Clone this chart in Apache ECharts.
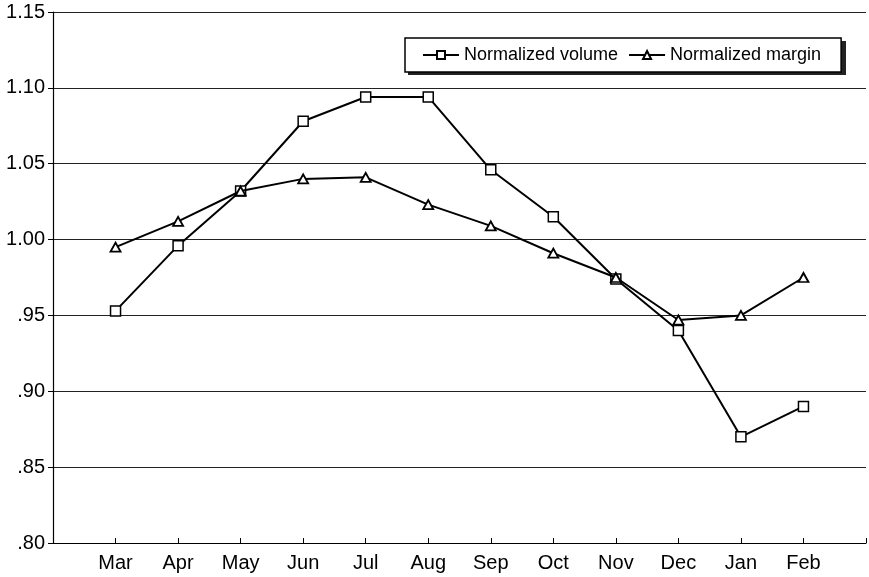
<!DOCTYPE html>
<html>
<head>
<meta charset="utf-8">
<script src="https://cdn.jsdelivr.net/npm/echarts@6/dist/echarts.min.js"></script>
<style>
  html, body { margin: 0; padding: 0; background: #fff; }
  #chart { width: 869px; height: 577px; }
</style>
</head>
<body>
<div id="chart"></div>
<script>
// months, Mar through Feb
var months = ['Mar', 'Apr', 'May', 'Jun', 'Jul', 'Aug', 'Sep', 'Oct', 'Nov', 'Dec', 'Jan', 'Feb']
var volume = [0.953, 0.996, 1.032, 1.078, 1.094, 1.094, 1.046, 1.015, 0.974, 0.940, 0.870, 0.890]
var margin = [0.995, 1.012, 1.032, 1.040, 1.041, 1.023, 1.009, 0.991, 0.975, 0.947, 0.950, 0.975]
var yTicks = [0.80, 0.85, 0.90, 0.95, 1.00, 1.05, 1.10, 1.15]

var FONT = 'Liberation Sans, Arial, Helvetica, sans-serif'

// empty slot at both ends so the points sit one step in from the axes
var cats = [''].concat(months).concat([''])
function toPoints(arr) {
  return arr.map(function (v, i) { return [i + 1, v] })
}
function yLabel(v) {
  var s = v.toFixed(2)
  return v < 1 ? s.replace(/^0/, '') : s
}

var chart = echarts.init(document.getElementById('chart'))
chart.setOption({
  animation: false,
  backgroundColor: '#fff',
  grid: { left: 53, top: 12, right: -7, bottom: 34 },
  // drop shadow behind the legend box
  graphic: [{
    type: 'rect',
    left: 408,
    top: 41,
    shape: { width: 438, height: 34 },
    style: { fill: '#222' },
    z: 5
  }],
  legend: {
    left: 405,
    top: 38,
    padding: [8, 20, 8, 17],
    itemGap: 10,
    itemWidth: 36,
    itemHeight: 10,
    z: 10,
    backgroundColor: '#fff',
    borderColor: '#000',
    borderWidth: 1.5,
    textStyle: { fontFamily: FONT, fontSize: 18, color: '#000' },
    data: ['Normalized volume', 'Normalized margin']
  },
  xAxis: {
    type: 'category',
    data: cats,
    boundaryGap: false,
    axisLine: { lineStyle: { color: '#000', width: 1.2 } },
    axisTick: { inside: true, length: 5, lineStyle: { color: '#000' } },
    axisLabel: { fontFamily: FONT, fontSize: 20, color: '#000', margin: 10, interval: 0 },
    splitLine: { show: false }
  },
  yAxis: {
    type: 'value',
    min: yTicks[0],
    max: yTicks[yTicks.length - 1],
    interval: 0.05,
    axisLine: { show: true, lineStyle: { color: '#000', width: 1.2 } },
    axisTick: { show: true, length: 5, lineStyle: { color: '#000' } },
    axisLabel: { fontFamily: FONT, fontSize: 20, color: '#000', margin: 8, formatter: yLabel },
    splitLine: { lineStyle: { color: '#222', width: 1.2 } }
  },
  series: [
    {
      name: 'Normalized volume',
      type: 'line',
      data: toPoints(volume),
      symbol: 'rect',
      symbolSize: 10,
      lineStyle: { color: '#000', width: 2 },
      itemStyle: { color: '#fff', borderColor: '#000', borderWidth: 1.5 },
      z: 3
    },
    {
      name: 'Normalized margin',
      type: 'line',
      data: toPoints(margin),
      symbol: 'triangle',
      symbolSize: [10, 9],
      lineStyle: { color: '#000', width: 2 },
      itemStyle: { color: '#fff', borderColor: '#000', borderWidth: 1.8 },
      z: 4
    }
  ]
})
</script>
</body>
</html>
